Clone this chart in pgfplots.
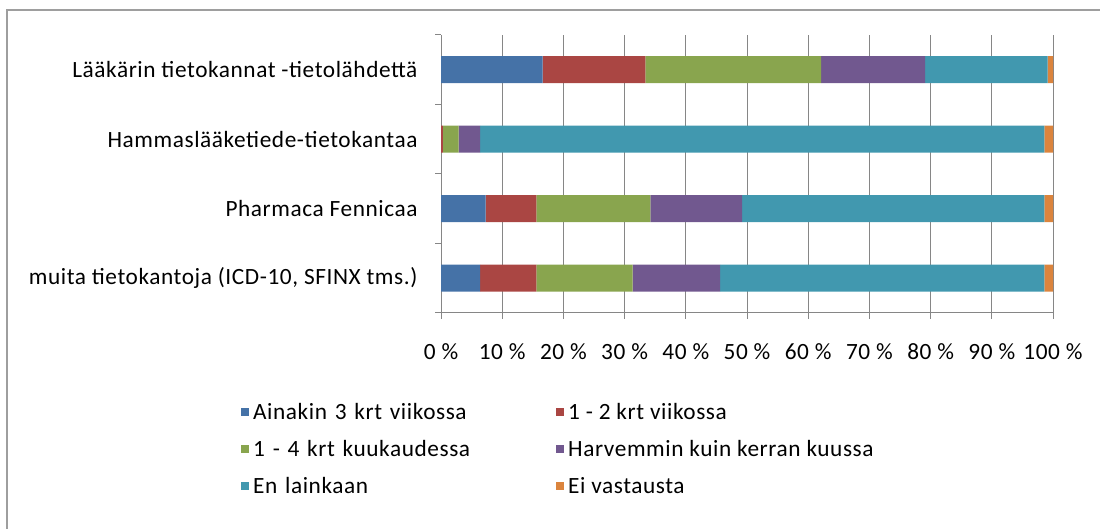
\documentclass[border=0pt]{standalone}
\usepackage{fontspec}
\setmainfont{Carlito}
\newfontfamily\lab[LetterSpace=2.5]{Carlito}
\usepackage{pgfplots}
\usepackage{pgfplotstable}
\pgfplotsset{compat=1.18}
\definecolor{cA}{HTML}{4572A7}
\definecolor{cB}{HTML}{AA4643}
\definecolor{cC}{HTML}{89A54E}
\definecolor{cD}{HTML}{71588F}
\definecolor{cE}{HTML}{4198AF}
\definecolor{cF}{HTML}{DB843D}
\definecolor{gridc}{HTML}{868686}
\pgfplotstableread{
y A B C D E F
0 6.4 9.2 15.7 14.3 53.0 1.4
1 7.3 8.3 18.6 15.0 49.4 1.4
2 0 0.3 2.6 3.5 92.2 1.4
3 16.6 16.8 28.7 17.0 20.0 0.9
}\data
\newcommand{\fs}{\lab\fontsize{23.3pt}{26pt}\selectfont}
\begin{document}
\begin{tikzpicture}[x=1pt,y=1pt]
\useasboundingbox (0,0) rectangle (1100,529);
\draw[gridc!80, line width=1.5pt] (7,-2) -- (7,519) -- (1102,519);
\begin{axis}[
  at={(441pt,216pt)}, anchor=south west,
  scale only axis, width=612pt, height=278pt,
  xbar stacked, bar width=27pt,
  xmin=0, xmax=100, ymin=-0.5, ymax=3.5,
  axis x line*=bottom, axis y line*=left,
  axis line style={gridc, line width=1pt},
  xtick={0,10,...,100},
  xticklabels={0 \%,10 \%,20 \%,30 \%,40 \%,50 \%,60 \%,70 \%,80 \%,90 \%,100 \%},
  xmajorgrids, grid style={gridc, line width=1pt},
  major x tick style={gridc, line width=1pt},
  xtick align=outside, major tick length=6pt,
  xticklabel shift=21pt,
  ytick={0,1,2,3},
  yticklabels={{muita tietokantoja  (ICD-10, SFINX  tms.)},{Pharmaca Fennicaa},{Hammaslääketiede-tietokantaa},{Lääkärin tietokannat  -tietolähdettä}},
  major y tick style={draw=none},
  minor ytick={-0.5,0.5,1.5,2.5,3.5},
  minor y tick style={gridc, line width=1pt},
  ytick align=outside, minor tick length=6pt,
  yticklabel shift=14pt,
  tick label style={font=\fs, text=black},
  legend style={draw=none, font=\fs, at={(-203pt,-86pt)}, anchor=north west,
    legend columns=2, row sep=15.5pt,
    nodes={inner xsep=4pt},
    /tikz/column 2/.style={nodes={text width=299pt, align=left}}},
  legend image code/.code={\fill[#1] (0pt,-4pt) rectangle (8pt,4pt);},
  legend cell align=left,
  every axis plot/.append style={draw=none},
]
\addplot[fill=cA] table[x=A,y=y]{\data};
\addplot[fill=cB] table[x=B,y=y]{\data};
\addplot[fill=cC] table[x=C,y=y]{\data};
\addplot[fill=cD] table[x=D,y=y]{\data};
\addplot[fill=cE] table[x=E,y=y]{\data};
\addplot[fill=cF] table[x=F,y=y]{\data};
\legend{Ainakin 3 krt viikossa,1 - 2 krt viikossa,1 - 4 krt kuukaudessa,Harvemmin kuin kerran kuussa,En lainkaan,Ei vastausta}
\end{axis}
\end{tikzpicture}
\end{document}
